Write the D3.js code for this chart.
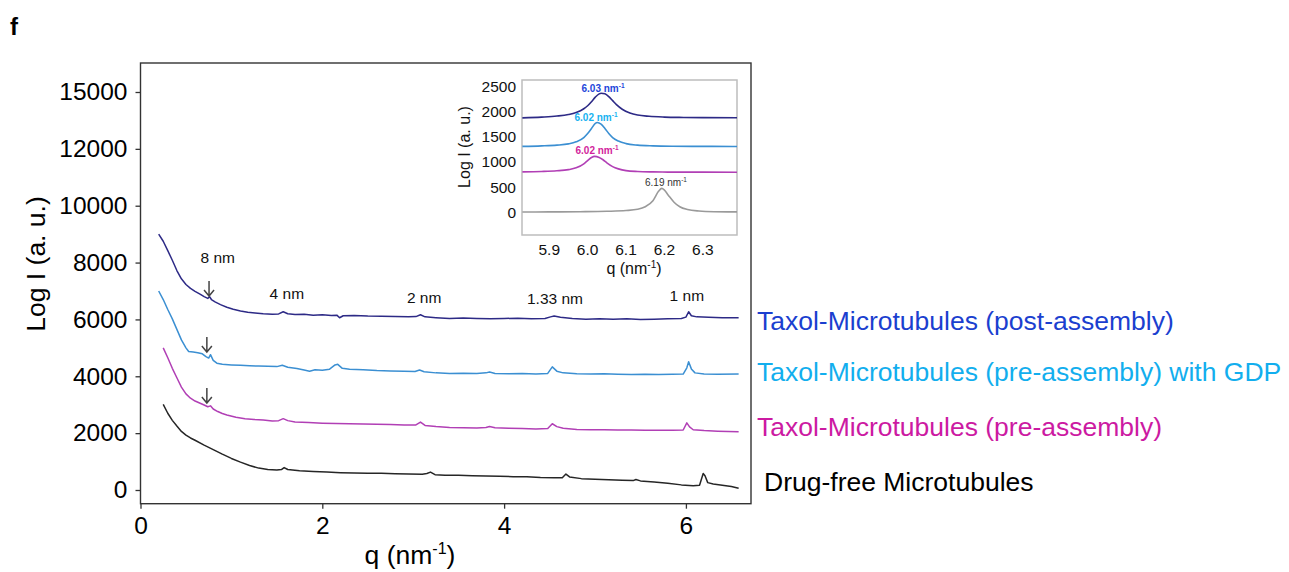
<!DOCTYPE html>
<html>
<head>
<meta charset="utf-8">
<script src="https://cdn.jsdelivr.net/npm/d3@7"></script>
<style>
  body { margin: 0; background: #fff; }
  text { font-family: "Liberation Sans", Arial, sans-serif; }
</style>
</head>
<body>
<svg id="chart" width="1289" height="572"></svg>
<script>

///////////////////////////////////////////////////////////////////////////////
// Data

var seriesNames = [
  "Taxol-Microtubules (post-assembly)",
  "Taxol-Microtubules (pre-assembly) with GDP",
  "Taxol-Microtubules (pre-assembly)",
  "Drug-free Microtubules"
];

var yTicks = [0, 2000, 4000, 6000, 8000, 10000, 12000, 14000];
var yTickLabels = ["0", "2000", "4000", "6000", "8000", "10000", "12000", "15000"];
var xTicks = [0, 2, 4, 6];

var insetYTicks = [0, 500, 1000, 1500, 2000, 2500];
var insetXTicks = [5.9, 6.0, 6.1, 6.2, 6.3];

var peakNames = ["8 nm", "4 nm", "2 nm", "1.33 nm", "1 nm"];
var insetPeakValues = ["6.03", "6.02", "6.02", "6.19"];

// main curves: [q, I]
var postAssembly = [
  [0.20, 9000], [0.25, 8750], [0.30, 8420], [0.35, 8080], [0.40, 7720], [0.45, 7430],
  [0.50, 7230], [0.55, 7090], [0.60, 6990], [0.65, 6900], [0.70, 6800], [0.74, 6740],
  [0.76, 6800], [0.78, 6700], [0.82, 6620], [0.88, 6520], [0.95, 6430], [1.02, 6360],
  [1.10, 6300], [1.18, 6250], [1.26, 6230], [1.35, 6200], [1.45, 6180], [1.52, 6195],
  [1.57, 6270], [1.62, 6200], [1.70, 6170], [1.80, 6185], [1.90, 6150], [2.00, 6165],
  [2.10, 6140], [2.16, 6150], [2.19, 6060], [2.23, 6130], [2.35, 6140], [2.50, 6120],
  [2.65, 6115], [2.80, 6100], [2.95, 6090], [3.03, 6100], [3.08, 6165], [3.13, 6090],
  [3.25, 6060], [3.40, 6030], [3.55, 6050], [3.70, 6030], [3.85, 6020], [4.00, 6035],
  [4.15, 6040], [4.30, 6020], [4.45, 6030], [4.51, 6090], [4.55, 6120], [4.62, 6080],
  [4.75, 6030], [4.90, 6010], [5.05, 6025], [5.20, 6010], [5.35, 6020], [5.50, 6000],
  [5.65, 6010], [5.80, 6020], [5.95, 6030], [6.00, 6080], [6.03, 6270], [6.06, 6130],
  [6.12, 6090], [6.25, 6080], [6.40, 6060], [6.58, 6060]
];

var preAssemblyGDP = [
  [0.20, 7000], [0.25, 6700], [0.30, 6350], [0.35, 6020], [0.40, 5650], [0.45, 5280],
  [0.50, 5000], [0.53, 4870], [0.58, 4850], [0.63, 4830], [0.68, 4790], [0.72, 4690],
  [0.75, 4640], [0.77, 4760], [0.80, 4560], [0.84, 4460], [0.90, 4420], [1.00, 4400],
  [1.10, 4385], [1.20, 4370], [1.30, 4360], [1.40, 4350], [1.50, 4340], [1.56, 4390],
  [1.62, 4320], [1.72, 4270], [1.80, 4220], [1.86, 4180], [1.92, 4230], [2.00, 4210],
  [2.08, 4250], [2.14, 4400], [2.17, 4420], [2.22, 4280], [2.30, 4250], [2.45, 4230],
  [2.60, 4200], [2.75, 4190], [2.90, 4180], [3.02, 4170], [3.07, 4220], [3.12, 4160],
  [3.25, 4120], [3.40, 4100], [3.55, 4110], [3.70, 4100], [3.80, 4120], [3.84, 4150],
  [3.90, 4100], [4.05, 4090], [4.20, 4100], [4.35, 4080], [4.48, 4100], [4.53, 4330],
  [4.58, 4180], [4.65, 4120], [4.80, 4090], [4.95, 4080], [5.10, 4090], [5.25, 4070],
  [5.40, 4060], [5.55, 4070], [5.70, 4060], [5.85, 4070], [5.97, 4080], [6.01, 4300],
  [6.03, 4510], [6.06, 4260], [6.10, 4120], [6.20, 4080], [6.35, 4070], [6.58, 4080]
];

var preAssembly = [
  [0.25, 5000], [0.30, 4650], [0.35, 4280], [0.40, 3950], [0.45, 3620], [0.50, 3380],
  [0.55, 3230], [0.60, 3130], [0.65, 3060], [0.70, 2990], [0.74, 2930], [0.77, 2960],
  [0.80, 2850], [0.85, 2760], [0.90, 2690], [0.95, 2640], [1.05, 2560], [1.15, 2510],
  [1.25, 2480], [1.35, 2460], [1.45, 2430], [1.52, 2440], [1.57, 2510], [1.62, 2440],
  [1.70, 2390], [1.85, 2370], [2.00, 2350], [2.15, 2340], [2.30, 2330], [2.45, 2320],
  [2.60, 2310], [2.75, 2300], [2.90, 2290], [3.03, 2290], [3.08, 2390], [3.13, 2270],
  [3.25, 2230], [3.40, 2200], [3.55, 2190], [3.70, 2180], [3.80, 2200], [3.84, 2230],
  [3.90, 2190], [4.05, 2170], [4.20, 2160], [4.35, 2150], [4.48, 2160], [4.53, 2330],
  [4.58, 2230], [4.65, 2170], [4.80, 2130], [4.95, 2120], [5.10, 2120], [5.25, 2110],
  [5.40, 2110], [5.55, 2100], [5.70, 2100], [5.85, 2100], [5.97, 2110], [6.01, 2360],
  [6.04, 2220], [6.08, 2120], [6.20, 2090], [6.35, 2070], [6.58, 2050]
];

var drugFree = [
  [0.25, 3010], [0.30, 2700], [0.35, 2450], [0.40, 2250], [0.45, 2060], [0.50, 1930],
  [0.55, 1830], [0.60, 1750], [0.70, 1580], [0.80, 1420], [0.90, 1260], [1.00, 1110],
  [1.10, 980], [1.20, 860], [1.30, 770], [1.40, 720], [1.50, 700], [1.55, 720],
  [1.58, 790], [1.62, 720], [1.75, 680], [1.90, 650], [2.05, 630], [2.20, 610],
  [2.35, 600], [2.50, 590], [2.65, 585], [2.80, 570], [2.95, 560], [3.10, 555],
  [3.15, 580], [3.19, 630], [3.24, 540], [3.35, 520], [3.50, 520], [3.65, 500],
  [3.80, 490], [3.95, 480], [4.10, 470], [4.25, 470], [4.40, 440], [4.55, 430],
  [4.64, 430], [4.68, 560], [4.72, 460], [4.85, 400], [5.00, 380], [5.15, 360],
  [5.30, 340], [5.42, 330], [5.45, 370], [5.50, 320], [5.65, 280], [5.80, 240],
  [5.95, 180], [6.08, 150], [6.15, 170], [6.19, 580], [6.21, 500], [6.24, 260],
  [6.30, 210], [6.40, 170], [6.50, 120], [6.58, 60]
];

// inset curves: [q, I]
var insetPost = [
  [5.83, 1870], [5.88, 1885], [5.92, 1905], [5.95, 1935], [5.97, 1975], [5.99, 2050],
  [6.00, 2110], [6.01, 2190], [6.02, 2280], [6.03, 2345], [6.035, 2358], [6.045, 2345],
  [6.055, 2290], [6.065, 2210], [6.075, 2130], [6.09, 2040], [6.11, 1965], [6.13, 1925],
  [6.16, 1900], [6.20, 1885], [6.25, 1878], [6.30, 1874], [6.389, 1872]
];
var insetGDP = [
  [5.83, 1305], [5.88, 1315], [5.92, 1330], [5.95, 1355], [5.97, 1395], [5.99, 1480],
  [6.00, 1560], [6.01, 1660], [6.02, 1760], [6.025, 1778], [6.035, 1745], [6.045, 1660],
  [6.055, 1560], [6.065, 1480], [6.08, 1410], [6.10, 1360], [6.13, 1330], [6.17, 1315],
  [6.22, 1308], [6.30, 1305], [6.389, 1303]
];
var insetPre = [
  [5.83, 800], [5.88, 808], [5.92, 822], [5.95, 845], [5.97, 880], [5.99, 960],
  [6.00, 1025], [6.01, 1085], [6.018, 1107], [6.03, 1085], [6.04, 1040], [6.05, 980],
  [6.065, 905], [6.08, 860], [6.10, 825], [6.13, 808], [6.17, 800], [6.22, 796],
  [6.30, 795], [6.389, 794]
];
var insetFree = [
  [5.83, 5], [5.90, 8], [5.98, 12], [6.05, 20], [6.10, 35], [6.13, 60], [6.15, 110],
  [6.17, 230], [6.185, 420], [6.193, 474], [6.20, 440], [6.21, 340], [6.225, 200],
  [6.24, 110], [6.26, 55], [6.29, 25], [6.33, 12], [6.389, 8]
];

///////////////////////////////////////////////////////////////////////////////
// Main plot

var svg = d3.select("#chart");
svg.append("rect").attr("width", 1289).attr("height", 572).attr("fill", "#fff");

var x = d3.scaleLinear().domain([0, 6.716]).range([140.5, 751]);
var y = d3.scaleLinear().domain([-482, 15020]).range([503.7, 63]);

var lineColors = ["#2d2a86", "#3b8fd2", "#b13fb5", "#262626"];
var labelColors = ["#1b3fcf", "#12aeee", "#cc1aa2", "#000"];
var mainData = [postAssembly, preAssemblyGDP, preAssembly, drugFree];

svg.append("text").attr("x", 10).attr("y", 35)
  .style("font-size", "24px").style("font-weight", "bold").text("f");

var yAxis = svg.append("g").attr("transform", "translate(140.5,0)")
  .call(d3.axisLeft(y).tickValues(yTicks)
    .tickFormat(function (d, i) { return yTickLabels[i]; })
    .tickSize(5).tickPadding(8));
var xAxis = svg.append("g").attr("transform", "translate(0,503.7)")
  .call(d3.axisBottom(x).tickValues(xTicks).tickFormat(d3.format("d"))
    .tickSize(5).tickPadding(8));

[xAxis, yAxis].forEach(function (g) {
  g.select(".domain").remove();
  g.selectAll("line").attr("stroke", "#333").attr("stroke-width", 1.3);
  g.selectAll("text").attr("fill", "#000").style("font-size", "24.5px")
    .style("font-family", "'Liberation Sans', Arial, sans-serif");
});

svg.append("rect").attr("x", 140.5).attr("y", 63)
  .attr("width", 751 - 140.5).attr("height", 503.7 - 63)
  .attr("fill", "none").attr("stroke", "#333").attr("stroke-width", 1.4);

svg.append("text")
  .attr("transform", "translate(45,264) rotate(-90)")
  .attr("text-anchor", "middle").style("font-size", "26.5px")
  .text("Log I (a. u.)");

var xt = svg.append("text").attr("x", 410).attr("y", 564)
  .attr("text-anchor", "middle").style("font-size", "26.5px");
xt.append("tspan").text("q (nm");
xt.append("tspan").attr("dy", -10).style("font-size", "16px").text("-1");
xt.append("tspan").attr("dy", 10).text(")");

var line = d3.line().x(function (d) { return x(d[0]); }).y(function (d) { return y(d[1]); });

svg.append("g").selectAll("path").data(mainData).join("path")
  .attr("d", line).attr("fill", "none")
  .attr("stroke", function (d, i) { return lineColors[i]; })
  .attr("stroke-width", 1.5).attr("stroke-linejoin", "round");

// peak spacing labels
var peakPos = [[0.85, 7985], [1.61, 6718], [3.12, 6577], [4.56, 6542], [6.01, 6648]];
svg.append("g").selectAll("text").data(peakNames).join("text")
  .attr("x", function (d, i) { return x(peakPos[i][0]); })
  .attr("y", function (d, i) { return y(peakPos[i][1]); })
  .attr("text-anchor", "middle").style("font-size", "15.5px").attr("fill", "#111")
  .text(function (d) { return d; });

// arrows at 8 nm
var arrows = [[0.754, 7350, 6824], [0.73, 5381, 4854], [0.73, 3588, 3060]];
arrows.forEach(function (a) {
  var ax = x(a[0]), y0 = y(a[1]), y1 = y(a[2]);
  svg.append("path")
    .attr("d", "M" + ax + "," + y0 + "V" + y1 + "M" + (ax - 5) + "," + (y1 - 6) +
      "L" + ax + "," + y1 + "L" + (ax + 5) + "," + (y1 - 6))
    .attr("fill", "none").attr("stroke", "#444").attr("stroke-width", 1.5);
});

// legend labels at right of each curve
var legendPos = [[757, 330], [757, 381], [757, 436], [764, 491]];
svg.append("g").selectAll("text").data(seriesNames).join("text")
  .attr("x", function (d, i) { return legendPos[i][0]; })
  .attr("y", function (d, i) { return legendPos[i][1]; })
  .attr("fill", function (d, i) { return labelColors[i]; })
  .style("font-size", "26.5px")
  .text(function (d) { return d; });

///////////////////////////////////////////////////////////////////////////////
// Inset

var xi = d3.scaleLinear().domain([5.829, 6.389]).range([522, 737]);
var yi = d3.scaleLinear().domain([-449, 2619]).range([235, 80]);

svg.append("rect").attr("x", 522).attr("y", 80).attr("width", 215).attr("height", 155)
  .attr("fill", "#fff").attr("stroke", "#bdbdbd").attr("stroke-width", 1.5);

svg.append("g").selectAll("text").data(insetYTicks).join("text")
  .attr("x", 516).attr("y", function (d) { return yi(d) + 5.5; })
  .attr("text-anchor", "end").style("font-size", "15.5px").attr("fill", "#111")
  .text(function (d) { return d; });

svg.append("g").selectAll("text").data(insetXTicks).join("text")
  .attr("x", function (d) { return xi(d); }).attr("y", 255)
  .attr("text-anchor", "middle").style("font-size", "15.5px").attr("fill", "#111")
  .text(function (d) { return d.toFixed(1); });

svg.append("text")
  .attr("transform", "translate(470,147) rotate(-90)")
  .attr("text-anchor", "middle").style("font-size", "16px").attr("fill", "#111")
  .text("Log I (a. u.)");

var ixt = svg.append("text").attr("x", 634).attr("y", 274)
  .attr("text-anchor", "middle").style("font-size", "16px").attr("fill", "#111");
ixt.append("tspan").text("q (nm");
ixt.append("tspan").attr("dy", -6).style("font-size", "10px").text("-1");
ixt.append("tspan").attr("dy", 6).text(")");

var insetColors = ["#2d2a86", "#3b8fd2", "#b13fb5", "#9a9a9a"];
var insetLabelColors = ["#1e46da", "#18b2f0", "#d21f9c", "#333"];
var insetData = [insetPost, insetGDP, insetPre, insetFree];
var iline = d3.line().curve(d3.curveMonotoneX)
  .x(function (d) { return xi(d[0]); }).y(function (d) { return yi(d[1]); });

svg.append("g").selectAll("path").data(insetData).join("path")
  .attr("d", iline).attr("fill", "none")
  .attr("stroke", function (d, i) { return insetColors[i]; })
  .attr("stroke-width", 1.6);

var insetLabelPos = [[603, 92], [596, 121], [597, 154], [666, 186]];
insetPeakValues.forEach(function (v, i) {
  var t = svg.append("text")
    .attr("x", insetLabelPos[i][0]).attr("y", insetLabelPos[i][1])
    .attr("text-anchor", "middle").attr("fill", insetLabelColors[i])
    .style("font-size", "10px").style("font-weight", i < 3 ? "bold" : "normal");
  t.append("tspan").text(v + " nm");
  t.append("tspan").attr("dy", -4).style("font-size", "6.5px").text("-1");
});

</script>
</body>
</html>
